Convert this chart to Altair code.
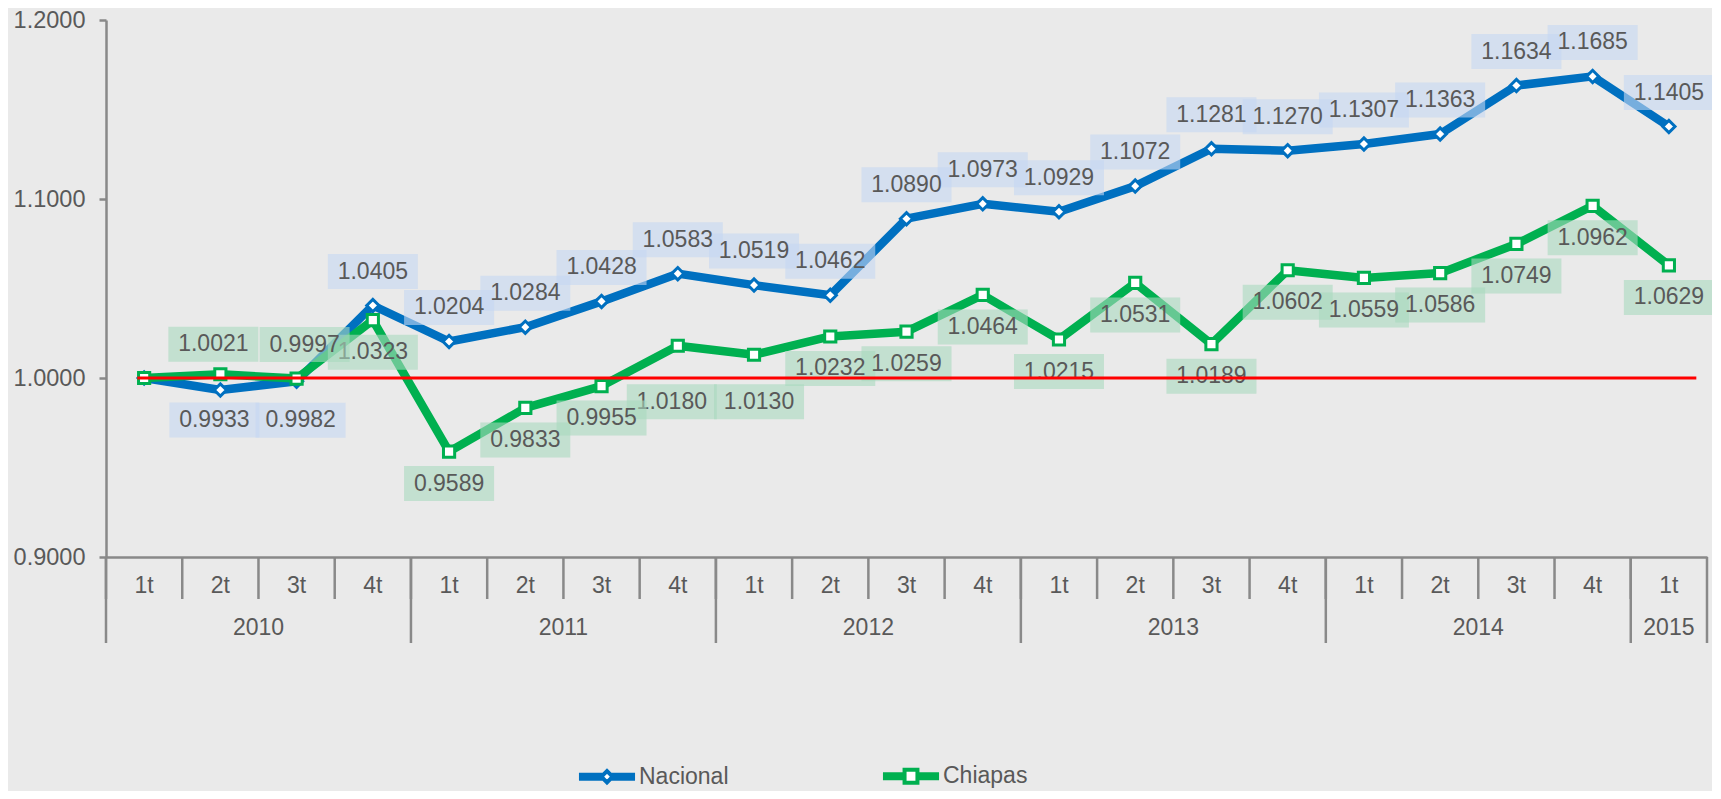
import altair as alt
import pandas as pd

# ---------------- data ----------------
years = ["2010", "2011", "2012", "2013", "2014", "2015"]
quarters = ["1t", "2t", "3t", "4t"]
series_names = ["Nacional", "Chiapas"]
series_colors = ["#0070C0", "#00B050"]

nacional = [1.0000, 0.9933, 0.9982, 1.0405, 1.0204, 1.0284, 1.0428, 1.0583, 1.0519, 1.0462,
            1.0890, 1.0973, 1.0929, 1.1072, 1.1281, 1.1270, 1.1307, 1.1363, 1.1634, 1.1685, 1.1405]
chiapas = [1.0000, 1.0021, 0.9997, 1.0323, 0.9589, 0.9833, 0.9955, 1.0180, 1.0130, 1.0232,
           1.0259, 1.0464, 1.0215, 1.0531, 1.0189, 1.0602, 1.0559, 1.0586, 1.0749, 1.0962, 1.0629]
reference_value = 1.0

# label placement nudges (pixels relative to each point; None = no label)
nac_label_dy = [None, 30, 39] + [-34] * 18
nac_label_dx = [0, -6, 4] + [0] * 18
chi_label_dy = [None, -30, -34, 32, 32, 32, 32, 56, 47] + [32] * 12
chi_label_dx = [0, -7, 8, 0, 0, 0, 0, -6, 5] + [0] * 12

# ---------------- build tables ----------------
period_year = [y for y in years[:-1] for _ in quarters] + [years[-1]]
period_quarter = [q for _ in years[:-1] for q in quarters] + [quarters[0]]
cats = [f"{y}-{q}" for y, q in zip(period_year, period_quarter)]

rows = []
for name, vals, dys, dxs in [("Nacional", nacional, nac_label_dy, nac_label_dx),
                             ("Chiapas", chiapas, chi_label_dy, chi_label_dx)]:
    for c, v, dy, dx in zip(cats, vals, dys, dxs):
        rows.append({"cat": c, "series": name, "value": v, "label": f"{v:.4f}",
                     "dy": dy if dy is not None else 0, "dx": dx, "haslabel": dy is not None})
df = pd.DataFrame(rows)

W, H = 1601, 537
FONT = "Liberation Sans"
TXT = "#595959"
AX = "#898989"
FS = 23

xscale = alt.Scale(domain=cats, paddingInner=0, paddingOuter=0)
yscale = alt.Scale(domain=[0.9, 1.2], nice=False, zero=False)

xaxis = alt.Axis(title=None, ticks=False, domain=True, domainColor=AX, domainWidth=2.5,
                 labelExpr="split(datum.label, '-')[1]", labelFontSize=FS, labelColor=TXT,
                 labelFont=FONT, labelPadding=28, labelBaseline="middle", labelAngle=0,
                 grid=False, labelOverlap=False, labelBound=False)
yaxis = alt.Axis(title=None, values=[0.9, 1.0, 1.1, 1.2], format=".4f", tickSize=7,
                 tickWidth=2.5, tickColor=AX, domainColor=AX, domainWidth=2.5,
                 labelFontSize=23.5, labelColor=TXT, labelFont=FONT, labelPadding=14,
                 grid=False)


def X(field="cat", **kw):
    return alt.X(f"{field}:N", scale=xscale, axis=xaxis, **kw)


def Y(field="value"):
    return alt.Y(f"{field}:Q", scale=yscale, axis=yaxis)


layers = []

# separators under the category axis
sep_df = pd.DataFrame({"cat": cats, "quarter": period_quarter})
layers.append(alt.Chart(sep_df).mark_rule(color=AX, strokeWidth=2.5).encode(
    x=X(bandPosition=0), y=alt.value(H), y2=alt.value(H + 42)))
layers.append(alt.Chart(sep_df).transform_filter("datum.quarter == '1t'").mark_rule(
    color=AX, strokeWidth=2.5).encode(
    x=X(bandPosition=0), y=alt.value(H), y2=alt.value(H + 86)))
layers.append(alt.Chart(pd.DataFrame({"cat": [cats[-1]]})).mark_rule(
    color=AX, strokeWidth=2.5).encode(
    x=X(bandPosition=1), y=alt.value(H), y2=alt.value(H + 86)))

# year labels
yr_df = pd.DataFrame({"cat": [f"{y}-2t" for y in years[:-1]], "year": years[:-1]})
layers.append(alt.Chart(yr_df).mark_text(fontSize=FS, font=FONT, color=TXT, baseline="middle").encode(
    x=X(bandPosition=1), y=alt.value(H + 71), text="year:N"))
layers.append(alt.Chart(pd.DataFrame({"cat": [f"{years[-1]}-1t"], "year": [years[-1]]})).mark_text(
    fontSize=FS, font=FONT, color=TXT, baseline="middle").encode(
    x=X(bandPosition=0.5), y=alt.value(H + 71), text="year:N"))

# series lines and markers
marker_shapes = {"Nacional": "diamond", "Chiapas": "square"}
marker_sizes = {"Nacional": 150, "Chiapas": 125}
for name, col in zip(series_names, series_colors):
    base = alt.Chart(df).transform_filter(f"datum.series == '{name}'")
    layers.append(base.mark_line(color=col, strokeWidth=8.5, strokeJoin="round", strokeCap="round").encode(
        x=X(), y=Y()))
    layers.append(base.mark_point(shape=marker_shapes[name], filled=False, fill="white", stroke=col,
                                  strokeWidth=3, size=marker_sizes[name], opacity=1).encode(
        x=X(), y=Y()))

# data labels with boxes
box_path = "M-1,-0.389H1V0.389H-1Z"
box_colors = {"Nacional": "#C5D7F1", "Chiapas": "#A8D9BE"}
lab = df[df["haslabel"]]
for name in series_names:
    sub = lab[lab["series"] == name]
    for (dx, dy) in sorted(set(zip(sub["dx"], sub["dy"]))):
        base = alt.Chart(df).transform_filter(
            f"datum.series == '{name}' && datum.haslabel && datum.dx == {dx} && datum.dy == {dy}")
        layers.append(base.mark_point(shape=box_path, size=8100, filled=True, color=box_colors[name],
                                      opacity=0.6, strokeWidth=0, xOffset=int(dx), yOffset=int(dy)).encode(
            x=X(), y=Y()))
        layers.append(base.mark_text(fontSize=FS, font=FONT, color=TXT, baseline="middle", align="center",
                                     dx=int(dx), dy=int(dy)).encode(
            x=X(), y=Y(), text="label:N"))

# reference line at 1.0
ref_df = pd.DataFrame({"cat": [cats[0]], "end": [cats[-1]], "value": [reference_value]})
layers.append(alt.Chart(ref_df).mark_rule(color="#FF0000", strokeWidth=3).encode(
    x=X(bandPosition=0.41),
    x2=alt.X2("end:N", bandPosition=0.86),
    y=Y()))

# legend (legend-only layer)
path_nac = "M-0.93,-0.07H-0.2V0.07H-0.93Z M0.2,-0.07H0.93V0.07H0.2Z M-0.2,0L0,-0.2L0.2,0L0,0.2Z"
path_chi = "M-0.93,-0.07H-0.25V0.07H-0.93Z M0.25,-0.07H0.93V0.07H0.25Z M-0.23,-0.23H0.23V0.23H-0.23Z"
leg = alt.Legend(title=None, orient="none", legendX=471, legendY=726, direction="horizontal",
                 symbolSize=3136, symbolStrokeWidth=4, labelFontSize=FS, labelColor=TXT,
                 labelFont=FONT, labelOffset=2, columnPadding=147)
layers.append(alt.Chart(df).transform_filter("false").mark_point(
    filled=False, fill="white", strokeWidth=4, size=3136, opacity=1).encode(
    color=alt.Color("series:N", scale=alt.Scale(domain=series_names, range=series_colors), legend=leg),
    shape=alt.Shape("series:N", scale=alt.Scale(domain=series_names, range=[path_nac, path_chi]), legend=leg)))

chart = alt.layer(*layers).properties(
    width=W, height=H,
    padding={"left": 98, "top": 12, "right": 5, "bottom": 234},
    autosize=alt.AutoSizeParams(type="none"),
).configure(background="#EAEAEA", font=FONT).configure_view(stroke=None)

chart.save("out.html", embed_options={"renderer": "svg", "actions": False})
